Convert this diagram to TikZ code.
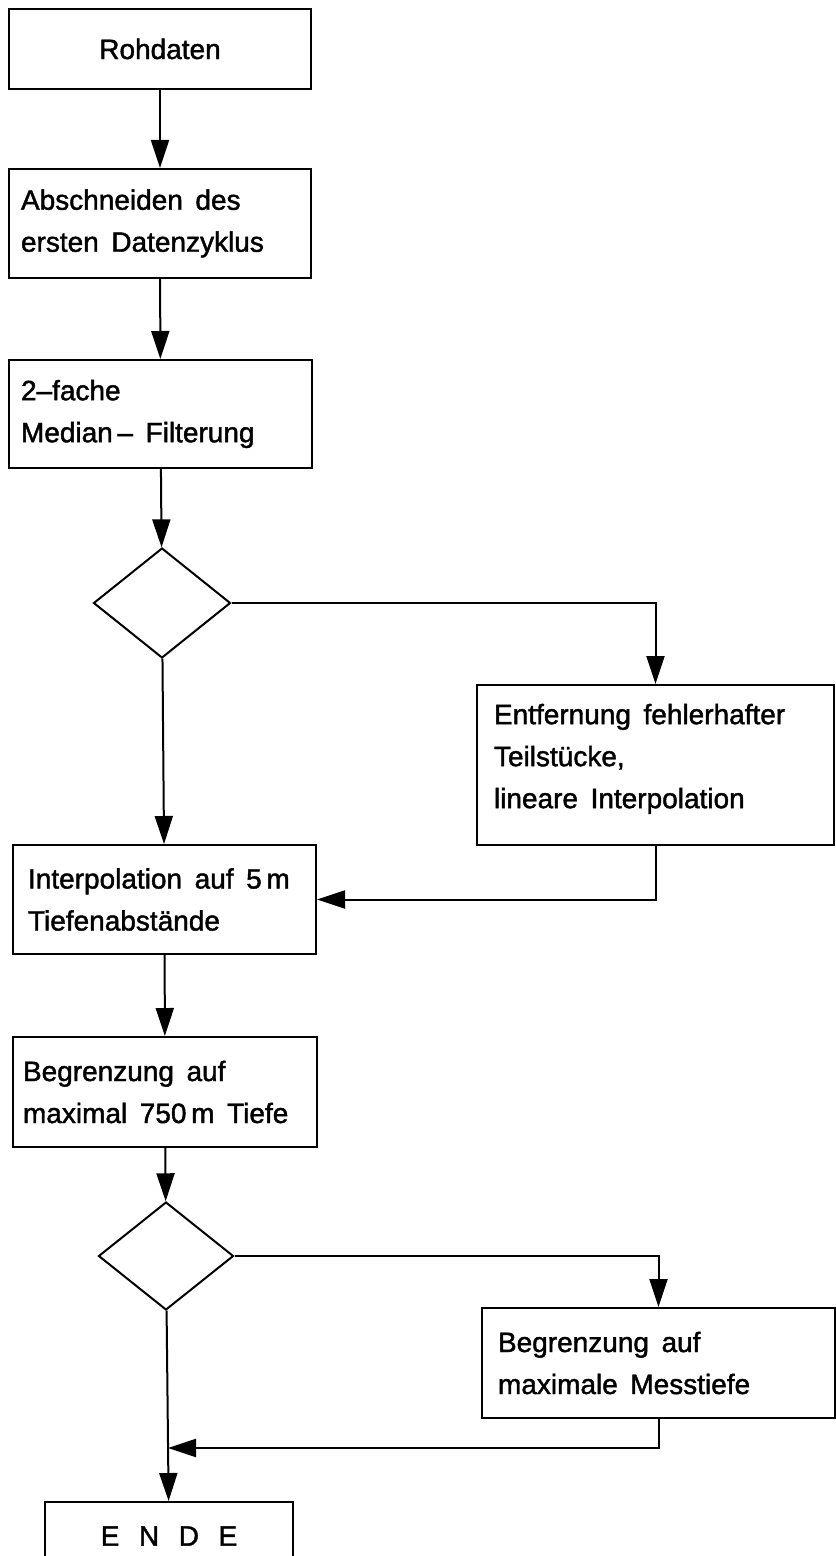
\documentclass[tikz,border=0pt]{standalone}
\usepackage{fontspec}
\setmainfont{Liberation Sans}
\newfontfamily\chartfont{Liberation Sans}[FakeBold=1.5]
\usepackage{tikz}
\usetikzlibrary{arrows.meta}
\usetikzlibrary{shapes.geometric}
\tikzset{
  % filled arrow tips as in the flow chart
  >={Triangle[length=14pt,width=9pt]}
}
\newcommand{\widespaces}{\spaceskip=0.45em plus 0.1em\relax}

\begin{document}
\begin{tikzpicture}[x=0.5pt, y=-0.5pt, line width=1pt]
    % Define styles
    \tikzstyle{block} = [rectangle, draw, align=left, inner ysep=0pt, font=\chartfont\fontsize{14}{21}\selectfont, execute at begin node=\widespaces]
    \tikzstyle{decision} = [diamond, draw, inner sep=0pt, minimum width=68.5pt, minimum height=55pt]
    \tikzstyle{line} = [draw, ->]

    \useasboundingbox (0,0) rectangle (835,1556);

    % Place nodes
    \node [block, align=center, text width=139pt, inner xsep=6pt, minimum height=40pt] (raw) at (160,49) {Rohdaten};
    \node [block, text width=139pt, inner xsep=6pt, minimum height=54.5pt] (cut) at (160,223.5) {Abschneiden des\\ersten Datenzyklus};
    \node [block, text width=139.5pt, inner xsep=6pt, minimum height=54pt] (median) at (160.5,414) {2–fache\\Median\,– Filterung};
    \node [decision] (check1) at (162,603) {};
    \node [block, text width=161.5pt, inner xsep=8.5pt, minimum height=80pt] (remove) at (655.5,765) {Entfernung fehlerhafter\\Teilstücke,\\lineare Interpolation\\[-12pt]\mbox{}};
    \node [block, text width=136.5pt, inner xsep=7.5pt, minimum height=54.5pt] (interp) at (164.5,899.5) {Interpolation auf 5\,m\\Tiefenabstände};
    \node [block, text width=142pt, inner xsep=5pt, minimum height=55pt] (limit) at (165,1092) {Begrenzung auf\\maximal 750\,m Tiefe};
    \node [decision, minimum width=67.5pt, minimum height=54pt] (check2) at (166,1256) {};
    \node [block, text width=160.5pt, inner xsep=8pt, minimum height=55pt] (depth) at (658.5,1363) {Begrenzung auf\\maximale Messtiefe};
    \node [block, align=center, text width=112pt, inner xsep=6pt, minimum height=34pt] (stop) at (169,1536) {E\hspace{0.7em}N\hspace{0.7em}D\hspace{0.7em}E};
    \coordinate (join) at (168,1448);

    % Draw edges
    \path [line] (raw) -- (cut);
    \path [line] (cut) -- (median);
    \path [line] (median) -- (check1);
    \path [line] (check1) -| (remove);
    \path [line] (check1) -- (interp);
    \path [line] (remove) |- (interp);
    \path [line] (interp) -- (limit);
    \path [line] (limit) -- (check2);
    \path [line] (check2) -| (depth);
    \path [line] (check2) -- (stop);
    \path [line] (depth) |- (join);

\end{tikzpicture}
\end{document}
